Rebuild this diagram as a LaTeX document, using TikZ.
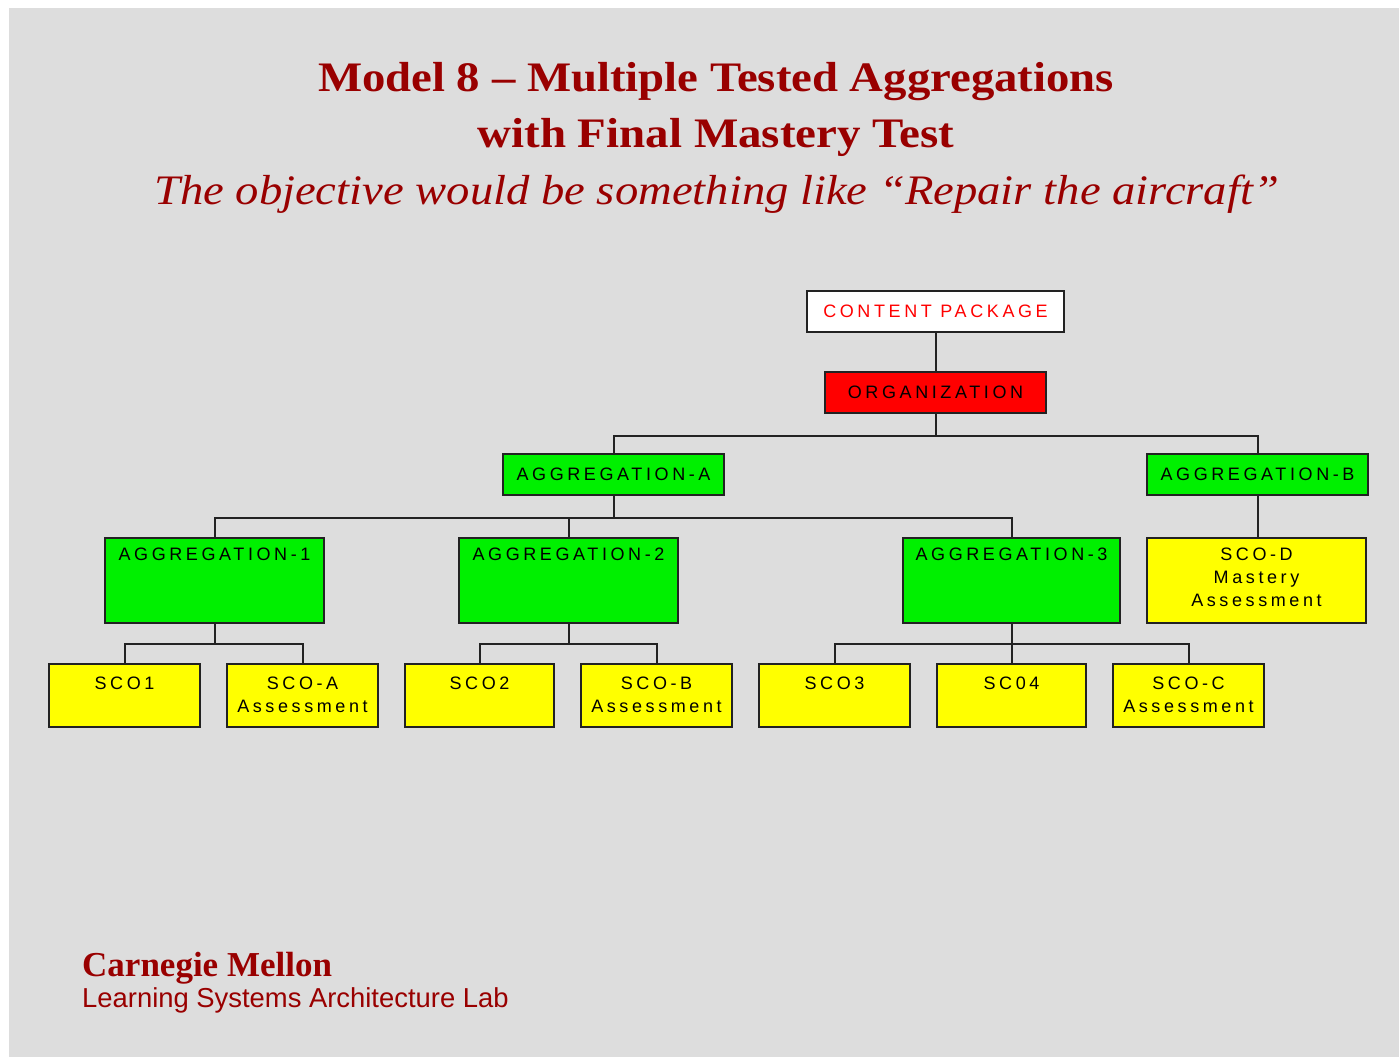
\documentclass[tikz,border=0pt]{standalone}
\usepackage{fontspec}
\setmainfont{Liberation Serif}
\newfontfamily\boxfont[LetterSpace=20]{Liberation Sans}
\newfontfamily\labfont{Liberation Sans}
\definecolor{bg}{HTML}{DDDDDD}
\definecolor{titlered}{HTML}{990000}
\definecolor{pkgred}{HTML}{FF0000}
\definecolor{aggreen}{HTML}{00F000}
\definecolor{scoyellow}{HTML}{FFFF00}
\definecolor{edge}{HTML}{222222}
\tikzset{
  box/.style={draw=edge, line width=2pt, inner sep=0pt, anchor=center,
    font=\boxfont\fontsize{18}{23}\selectfont},
  onebox/.style={box, minimum height=41pt},
  aggbox/.style={box, fill=aggreen, minimum height=85pt},
  scobox/.style={box, fill=scoyellow, minimum height=63pt},
  toptext/.style={anchor=north, inner sep=0pt, align=center, font=\boxfont\fontsize{18}{23}\selectfont},
  conn/.style={draw=edge, line width=2pt},
  titlefont/.style={text=titlered, inner sep=0pt}
}
\begin{document}
\begin{tikzpicture}[x=1pt,y=-1pt]
\useasboundingbox (0,0) rectangle (1399,1057);
\fill[bg] (9,8) rectangle (1399,1057);

% titles
\node[titlefont, anchor=base, font=\fontsize{42}{48}\selectfont\bfseries] (t1) at (716,92) {\scalebox{1.113}[1]{Model 8 -- Multiple Tested Aggregations}};
\node[titlefont, anchor=base, font=\fontsize{42}{48}\selectfont\bfseries] (t2) at (716,147) {\scalebox{1.118}[1]{with Final Mastery Test}};
\node[titlefont, anchor=base, font=\fontsize{42}{48}\selectfont\itshape] (t3) at (716.5,204) {\scalebox{1.11}[1]{The objective would be something like ``Repair the aircraft''}};

% boxes
\node[onebox, fill=white, text=pkgred, minimum width=257pt] (cp) at (935.5,311) {CONTENT PACKAGE};
\node[onebox, fill=pkgred, minimum width=221pt] (org) at (935.5,392.5) {ORGANIZATION};
\node[onebox, fill=aggreen, minimum width=221pt] (aggA) at (613.5,474.5) {AGGREGATION-A};
\node[onebox, fill=aggreen, minimum width=221pt] (aggB) at (1257.5,474.5) {AGGREGATION-B};

\node[aggbox, minimum width=219pt, label={[toptext, yshift=-11pt]north:AGGREGATION-1}] (agg1) at (214.5,580.5) {};
\node[aggbox, minimum width=219pt, label={[toptext, yshift=-11pt]north:AGGREGATION-2}] (agg2) at (568.5,580.5) {};
\node[aggbox, minimum width=217pt, label={[toptext, yshift=-11pt]north:AGGREGATION-3}] (agg3) at (1011.5,580.5) {};
\node[scobox, minimum height=85pt, minimum width=219pt, label={[toptext, yshift=-11pt]north:SCO-D\\Mastery\\Assessment}] (scoD) at (1256.5,580.5) {};

\node[scobox, minimum width=151pt, label={[toptext, yshift=-14pt]north:SCO1}] (sco1) at (124.5,695.5) {};
\node[scobox, minimum width=151pt, label={[toptext, yshift=-14pt]north:SCO-A\\Assessment}] (scoA) at (302.5,695.5) {};
\node[scobox, minimum width=149pt, label={[toptext, yshift=-14pt]north:SCO2}] (sco2) at (479.5,695.5) {};
\node[scobox, minimum width=151pt, label={[toptext, yshift=-14pt]north:SCO-B\\Assessment}] (scoB) at (656.5,695.5) {};
\node[scobox, minimum width=151pt, label={[toptext, yshift=-14pt]north:SCO3}] (sco3) at (834.5,695.5) {};
\node[scobox, minimum width=149pt, label={[toptext, yshift=-14pt]north:SC04}] (sco4) at (1011.5,695.5) {};
\node[scobox, minimum width=151pt, label={[toptext, yshift=-14pt]north:SCO-C\\Assessment}] (scoC) at (1188.5,695.5) {};

% connectors
\draw[conn] (cp.south) -- (org.north);
\draw[conn] (org.south) -- ++(0,22) -| (aggA.north);
\draw[conn] (org.south) -- ++(0,22) -| (aggB.north);
\draw[conn] (aggA.south) -- ++(0,22) -| (agg1.north);
\draw[conn] (aggA.south) -- ++(0,22) -| (agg2.north);
\draw[conn] (aggA.south) -- ++(0,22) -| (agg3.north);
\draw[conn] (aggB.south) -- (aggB.south |- scoD.north);
\draw[conn] (agg1.south) -- ++(0,20) -| (sco1.north);
\draw[conn] (agg1.south) -- ++(0,20) -| (scoA.north);
\draw[conn] (agg2.south) -- ++(0,20) -| (sco2.north);
\draw[conn] (agg2.south) -- ++(0,20) -| (scoB.north);
\draw[conn] (agg3.south) -- ++(0,20) -| (sco3.north);
\draw[conn] (agg3.south) -- (sco4.north);
\draw[conn] (agg3.south) -- ++(0,20) -| (scoC.north);

% footer
\node[titlefont, anchor=base west, font=\fontsize{35}{40}\selectfont\bfseries] (cmu) at (82,976) {Carnegie Mellon};
\node[titlefont, anchor=base west, font=\labfont\fontsize{27.4}{30}\selectfont] (lsal) at (82,1007) {Learning Systems Architecture Lab};
\end{tikzpicture}
\end{document}
